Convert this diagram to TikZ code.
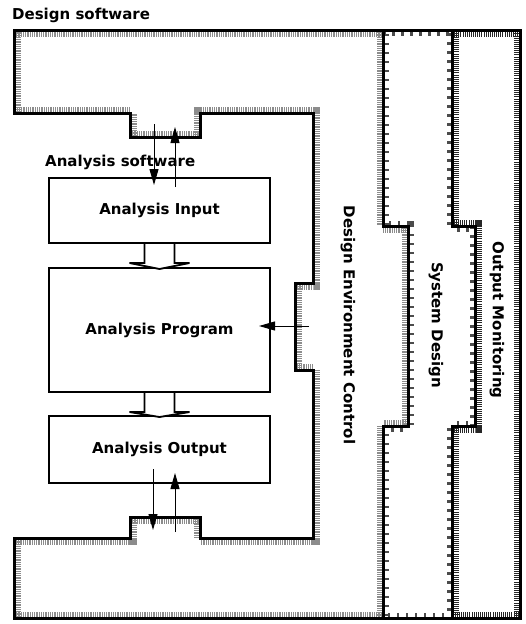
\documentclass[tikz,border=0pt]{standalone}
\usepackage{fontspec}
\setmainfont{DejaVu Sans}
\usetikzlibrary{arrows.meta,calc}
\begin{document}
\begin{tikzpicture}[x=1pt,y=-1pt,
  lbl/.style={font=\bfseries\fontsize{15}{18}\selectfont, inner sep=0pt},
  box/.style={draw, line width=2pt, fill=white, font=\bfseries\fontsize{15}{18}\selectfont, inner sep=0pt},
  border/.style={line width=3pt, line join=miter},
  dband/.style={black!45, line width=13pt, dash pattern=on 0.9pt off 0.9pt},
  sband/.style={black!70, line width=11pt, dash pattern=on 2.5pt off 6.5pt},
  oband/.style={black!85, line width=13pt, dash pattern=on 1pt off 1.1pt},
  thinarrow/.style={line width=1pt, -{Triangle[length=16pt,width=9pt]}},
  hollow/.style={draw, line width=1.8pt, fill=white, line join=miter},
]
\useasboundingbox (0,0) rectangle (525,624);
\fill[white] (0,0) rectangle (525,624);

\def\Dpath{(14,30) -- (383,30) -- (383,226) -- (408,226) -- (408,426) -- (383,426) -- (383,618) -- (14,618) -- (14,538) -- (130,538) -- (130,517) -- (200,517) -- (200,538) -- (313,538) -- (313,370) -- (295,370) -- (295,283) -- (313,283) -- (313,113) -- (200,113) -- (200,137) -- (130,137) -- (130,113) -- (14,113) -- cycle}
\def\Spath{(383,30) -- (452,30) -- (452,226) -- (475,226) -- (475,426) -- (452,426) -- (452,618) -- (383,618) -- (383,426) -- (408,426) -- (408,226) -- (383,226) -- cycle}
\def\Opath{(452,30) -- (520,30) -- (520,618) -- (452,618) -- (452,426) -- (475,426) -- (475,226) -- (452,226) -- cycle}

% textured inner bands
\begin{scope}
  \clip \Dpath;
  \draw[dband] \Dpath;
\end{scope}
\begin{scope}
  \clip \Spath;
  \draw[sband] \Spath;
\end{scope}
\begin{scope}
  \clip \Opath;
  \draw[oband] \Opath;
\end{scope}

% region outlines
\draw[border] \Dpath;
\draw[border] \Spath;
\draw[border] \Opath;

% titles
\node[lbl, anchor=west] (dstitle) at (12,15) {Design software};
\node[lbl, anchor=west] (astitle) at (45,162) {Analysis software};

% analysis boxes
\node[box, minimum width=221pt, minimum height=65pt] (input) at (159.5,210.5) {Analysis Input};
\node[box, minimum width=221pt, minimum height=124pt] (program) at (159.5,330) {Analysis Program};
\node[box, minimum width=221pt, minimum height=67pt] (output) at (159.5,449.5) {Analysis Output};

% hollow block arrows between boxes
\draw[hollow] ($(input.south)+(-15,0)$) -- ++(0,19) -- ++(-15,0)
  -- ($(program.north)+(0,2)$) -- ($(input.south)+(30,19)$) -- ++(-15,0) -- ($(input.south)+(15,0)$);
\draw[hollow] ($(program.south)+(-15,0)$) -- ++(0,19) -- ++(-15,0)
  -- ($(output.north)+(0,2)$) -- ($(program.south)+(30,19)$) -- ++(-15,0) -- ($(program.south)+(15,0)$);

% small connectors
\coordinate (t1) at (154,124);
\coordinate (t2) at (175,127);
\coordinate (b1) at (153,530);
\coordinate (b2) at (175,532);
\coordinate (rc) at (309,326);
\draw[thinarrow] (t1) -- ($(input.north -| t1)+(0,8)$);
\draw[thinarrow] ($(input.north -| t2)+(0,10)$) -- (t2);
\draw[thinarrow] ($(output.south -| b1)+(0,-15)$) -- (b1);
\draw[thinarrow] (b2) -- ($(output.south -| b2)+(0,-11)$);
\draw[thinarrow] (rc) -- ($(program.east |- rc)+(-12,0)$);

% vertical labels
\node[lbl, rotate=-90] (dec) at (348,325) {Design Environment Control};
\node[lbl, rotate=-90] (sd) at (436,325) {System Design};
\node[lbl, rotate=-90] (om) at (497,320) {Output Monitoring};
\end{tikzpicture}
\end{document}
